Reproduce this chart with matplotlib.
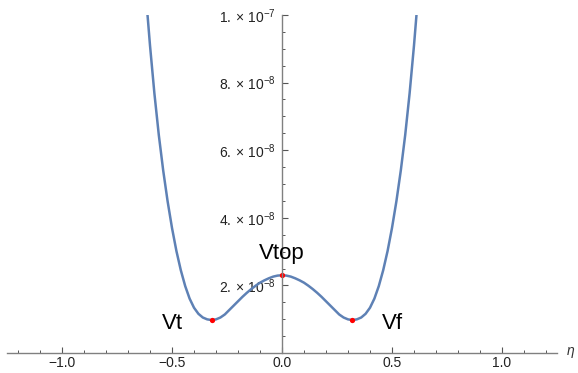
import matplotlib
matplotlib.use("Agg")
import matplotlib.pyplot as plt
from matplotlib.ticker import MultipleLocator, FixedLocator, FuncFormatter

plt.rcParams['font.family'] = ['Liberation Sans', 'DejaVu Sans']
plt.rcParams['mathtext.fontset'] = 'custom'
plt.rcParams['mathtext.rm'] = 'Liberation Sans'
plt.rcParams['mathtext.it'] = 'Liberation Sans:italic'

# potential curve (V in units of 1e-8)
eta_pos = [0.00, 0.02, 0.04, 0.06, 0.08, 0.10, 0.12, 0.14, 0.16, 0.18, 0.20,
           0.22, 0.24, 0.26, 0.28, 0.30, 0.32, 0.34, 0.36, 0.38, 0.40, 0.42,
           0.44, 0.46, 0.48, 0.50, 0.52, 0.54, 0.56, 0.58, 0.60, 0.62]
v_pos = [2.30, 2.29, 2.26, 2.21, 2.15, 2.08, 1.99, 1.89, 1.78, 1.66, 1.53,
         1.40, 1.27, 1.14, 1.05, 0.995, 0.975, 0.995, 1.05, 1.16, 1.34, 1.61,
         1.98, 2.45, 3.02, 3.70, 4.49, 5.40, 6.45, 7.68, 9.10, 10.70]
eta_vals = [-e for e in eta_pos[:0:-1]] + eta_pos
v_vals = v_pos[:0:-1] + v_pos

# marked points
pt_eta = [-0.32, 0.0, 0.32]
pt_v = [0.975, 2.30, 0.975]
pt_labels = ["Vt", "Vtop", "Vf"]
lab_eta = [-0.50, 0.0, 0.50]
lab_v = [0.87, 2.95, 0.87]

scale = 1e-8

fig = plt.figure(figsize=(5.78, 3.73), dpi=100)
ax = fig.add_axes([7/578, 20/373, 550/578, 338/373])

ax.plot(eta_vals, [v*scale for v in v_vals], color='#5e81b5', lw=1.8,
        solid_joinstyle='round', solid_capstyle='butt')
ax.plot(pt_eta, [v*scale for v in pt_v], 'o', color='#ff0000', ms=3.8, mec='none')
for x, y, t in zip(lab_eta, lab_v, pt_labels):
    ax.text(x, y*scale, t, ha='center', va='center', fontsize=16, color='black')

ax.set_xlim(-1.25, 1.25)
ax.set_ylim(0, 1e-7)

for s in ['top', 'right']:
    ax.spines[s].set_visible(False)
ax.spines['left'].set_position(('data', 0))
ax.spines['bottom'].set_position(('data', 0))
for s in ['left', 'bottom']:
    ax.spines[s].set_color('#808080')
    ax.spines[s].set_linewidth(1.0)

ax.xaxis.set_major_locator(FixedLocator([-1.0, -0.5, 0.0, 0.5, 1.0]))
ax.xaxis.set_minor_locator(FixedLocator([-1.2, -1.1, -0.9, -0.8, -0.7, -0.6, -0.4, -0.3, -0.2, -0.1,
                                         0.1, 0.2, 0.3, 0.4, 0.6, 0.7, 0.8, 0.9, 1.1, 1.2]))
ax.xaxis.set_major_formatter(FuncFormatter(lambda v, p: f"{v:.1f}".replace('-', '\u2212')))

ytick_vals = [2e-8, 4e-8, 6e-8, 8e-8, 1e-7]
ytick_labels = [r'$2.\times\,10^{-8}$', r'$4.\times\,10^{-8}$', r'$6.\times\,10^{-8}$',
                r'$8.\times\,10^{-8}$', r'$1.\times\,10^{-7}$']
ax.set_yticks(ytick_vals)
ax.set_yticklabels(ytick_labels)
ax.yaxis.set_minor_locator(MultipleLocator(0.5e-8))

ax.tick_params(axis='both', which='major', direction='in', length=4.2, width=0.8,
               color='#555555', labelsize=10, labelcolor='#222222')
ax.tick_params(axis='both', which='minor', direction='in', length=2.3, width=0.7,
               color='#555555')
ax.tick_params(axis='x', which='major', pad=2.5)
ax.tick_params(axis='y', which='major', pad=4.5, labelsize=10)

ax.text(1.312, 0, r'$\eta$', ha='center', va='center', fontsize=10,
        color='#333333', clip_on=False)

fig.savefig('out.png', dpi=100)
